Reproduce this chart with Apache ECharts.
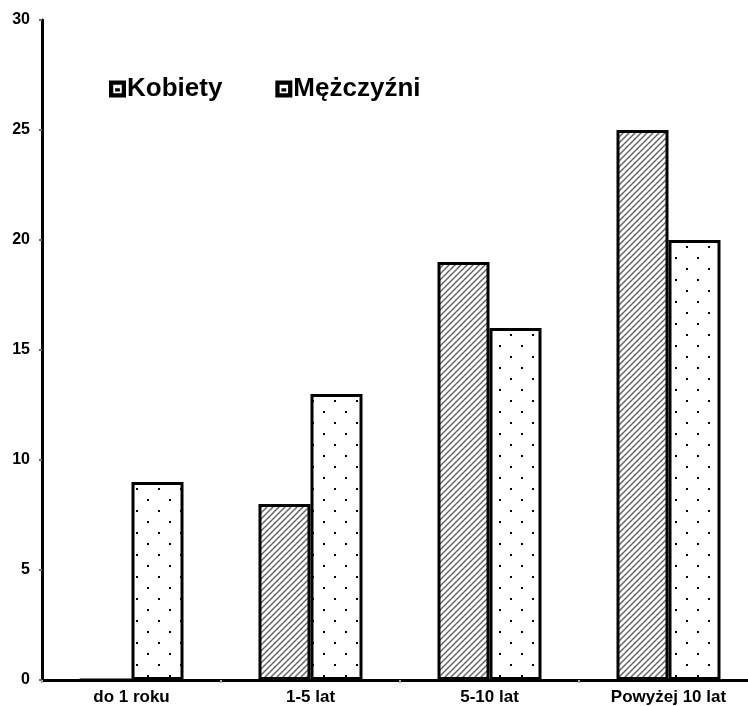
<!DOCTYPE html>
<html><head><meta charset="utf-8">
<script src="https://cdn.jsdelivr.net/npm/echarts@6/dist/echarts.min.js"></script>
<style>html,body{margin:0;padding:0;background:#fff}#c{width:748px;height:706px}</style>
</head><body><div id="c"></div>
<script>
const categories = ['do 1 roku', '1-5 lat', '5-10 lat', 'Powyżej 10 lat'];
const kobiety = [0, 8, 19, 25];
const mezczyzni = [9, 13, 16, 20];
const yTicks = [0, 5, 10, 15, 20, 25, 30];

function hatch() {
  const c = document.createElement('canvas'); c.width = 6; c.height = 6;
  const g = c.getContext('2d');
  g.fillStyle = '#fff'; g.fillRect(0, 0, 6, 6);
  g.strokeStyle = '#666'; g.lineWidth = 1.5;
  g.beginPath();
  g.moveTo(-1, 7); g.lineTo(7, -1);
  g.moveTo(-4, 4); g.lineTo(4, -4);
  g.moveTo(2, 10); g.lineTo(10, 2);
  g.stroke();
  return c;
}
function dots() {
  const c = document.createElement('canvas'); c.width = 22; c.height = 22;
  const g = c.getContext('2d');
  g.fillStyle = '#fff'; g.fillRect(0, 0, 22, 22);
  g.fillStyle = '#000';
  g.fillRect(4, 4, 2, 2);
  g.fillRect(15, 15, 2, 2);
  return c;
}
const icon = 'path://M0,0H10V10H0Z M2.5,2.5V7.5H7.5V2.5Z M3.6,4.5H6.4V6.4H3.6Z';
const chart = echarts.init(document.getElementById('c'));
chart.setOption({
  animation: false,
  backgroundColor: '#fff',
  grid: { left: 42, width: 716, top: 20, bottom: 26, containLabel: false, outerBoundsMode: 'none' },
  legend: {
    left: 104, top: 71, itemGap: 53, itemWidth: 17, itemHeight: 17,
    textStyle: { fontFamily: 'Liberation Sans, Arial', fontWeight: 'bold', fontSize: 26, color: '#000', padding: [0, 0, 0, -4] },
    data: [
      { name: 'Kobiety', icon: icon, itemStyle: { color: '#000', borderWidth: 0 } },
      { name: 'Mężczyźni', icon: icon, itemStyle: { color: '#000', borderWidth: 0 } }
    ]
  },
  xAxis: {
    type: 'category', data: categories,
    axisLine: { lineStyle: { color: '#000', width: 3 } },
    axisTick: { show: true, length: 3, inside: false, lineStyle: { color: '#aaa', width: 2 } },
    axisLabel: { fontFamily: 'Liberation Sans, Arial', fontWeight: 'bold', fontSize: 17, color: '#000', margin: 9 }
  },
  yAxis: {
    type: 'value', min: yTicks[0], max: yTicks[yTicks.length - 1], interval: 5,
    axisLine: { show: true, lineStyle: { color: '#000', width: 3 } },
    axisTick: { show: true, length: 3, lineStyle: { color: '#666', width: 2 } },
    splitLine: { show: false },
    axisLabel: { fontFamily: 'Liberation Sans, Arial', fontWeight: 'bold', fontSize: 16, color: '#000', margin: 12 }
  },
  series: [
    { name: 'Kobiety', type: 'bar', data: kobiety, barWidth: 52, barGap: '0%',
      itemStyle: { color: { image: hatch(), repeat: 'repeat' }, borderColor: '#000', borderWidth: 3 } },
    { name: 'Mężczyźni', type: 'bar', data: mezczyzni, barWidth: 52,
      itemStyle: { color: { image: dots(), repeat: 'repeat' }, borderColor: '#000', borderWidth: 3 } }
  ]
});
</script></body></html>
